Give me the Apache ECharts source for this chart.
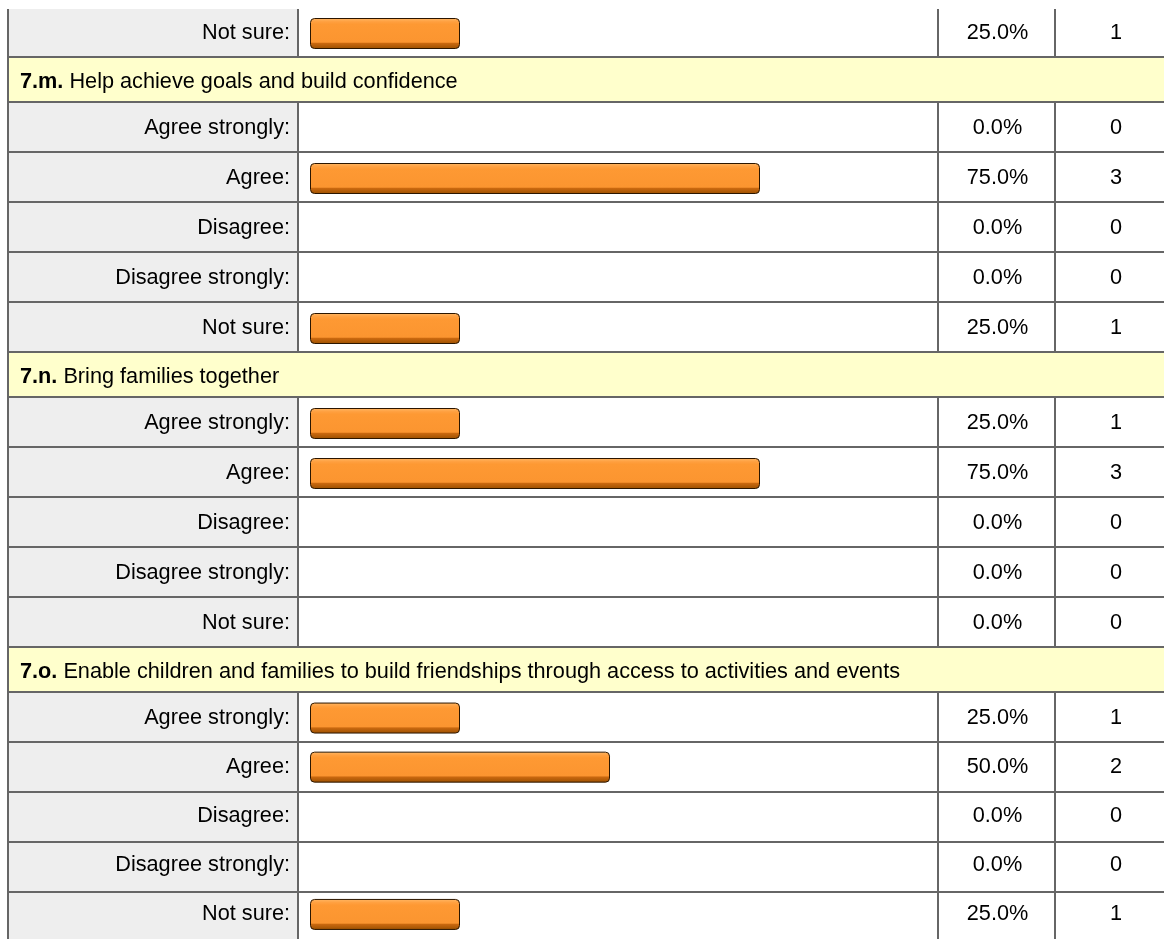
<!DOCTYPE html>
<html>
<head>
<meta charset="utf-8">
<title>Survey question 7 – responses</title>
<script src="https://cdn.jsdelivr.net/npm/echarts@6/dist/echarts.min.js"></script>
<style>
  html, body { margin: 0; padding: 0; background: #ffffff; }
  #chart { width: 1164px; height: 939px; }
</style>
</head>
<body>
<div id="chart"></div>
<script>
// ---- data -------------------------------------------------------------
const ANSWERS = ['Agree strongly:', 'Agree:', 'Disagree:', 'Disagree strongly:', 'Not sure:'];

// tail of the previous question (only its last answer row is on this page)
const PREV_ANSWERS = ['Not sure:'];
const PREV_PCT = [25.0];
const PREV_COUNT = [1];

const CODE_7M = '7.m.';
const TEXT_7M = 'Help achieve goals and build confidence';
const PCT_7M = [0.0, 75.0, 0.0, 0.0, 25.0];
const COUNT_7M = [0, 3, 0, 0, 1];

const CODE_7N = '7.n.';
const TEXT_7N = 'Bring families together';
const PCT_7N = [25.0, 75.0, 0.0, 0.0, 0.0];
const COUNT_7N = [1, 3, 0, 0, 0];

const CODE_7O = '7.o.';
const TEXT_7O = 'Enable children and families to build friendships through access to activities and events';
const PCT_7O = [25.0, 50.0, 0.0, 0.0, 25.0];
const COUNT_7O = [1, 2, 0, 0, 1];

// ---- layout -----------------------------------------------------------
const FONT = "'Liberation Sans', Arial, Helvetica, sans-serif";
const FS = 21.7;
const LINE = '#666666';
const LW = 2;
const TABLE_L = 7;        // outer left border
const SPLIT_LABEL = 297;  // label | bar
const SPLIT_PCT = 937;    // bar | percent
const SPLIT_CNT = 1054;   // percent | count
const TABLE_R = 1180;     // runs past the right edge
const CLIP_TOP = 9;
const HEADER_H = 45;
const ROW_H = 50;
const BAR_LEFT = 310;
const BAR_FULL = 600;     // width of a 100% bar

const blocks = [
  { code: null, text: null, answers: PREV_ANSWERS, pct: PREV_PCT, cnt: PREV_COUNT },
  { code: CODE_7M, text: TEXT_7M, answers: ANSWERS, pct: PCT_7M, cnt: COUNT_7M },
  { code: CODE_7N, text: TEXT_7N, answers: ANSWERS, pct: PCT_7N, cnt: COUNT_7N },
  { code: CODE_7O, text: TEXT_7O, answers: ANSWERS, pct: PCT_7O, cnt: COUNT_7O }
];

const graphics = [];
const grids = [], xAxes = [], yAxes = [], series = [];

function hLine(y) {
  if (y < CLIP_TOP) return;
  graphics.push({ type: 'rect', z: 1, silent: true,
    shape: { x: TABLE_L, y: y, width: TABLE_R - TABLE_L, height: LW },
    style: { fill: LINE } });
}
function vLine(x, y0, y1) {
  const a = Math.max(y0, CLIP_TOP);
  graphics.push({ type: 'rect', z: 1, silent: true,
    shape: { x: x, y: a, width: LW, height: y1 - a },
    style: { fill: LINE } });
}
function cell(x0, x1, y0, y1, fill) {
  const a = Math.max(y0, CLIP_TOP);
  graphics.push({ type: 'rect', z: 0, silent: true,
    shape: { x: x0, y: a, width: x1 - x0, height: y1 - a },
    style: { fill: fill } });
}

const barFill = {
  type: 'linear', x: 0, y: 0, x2: 0, y2: 1,
  colorStops: [
    { offset: 0.00, color: '#ffb866' },
    { offset: 0.12, color: '#ffa040' },
    { offset: 0.20, color: '#fe9933' },
    { offset: 0.78, color: '#fb9530' },
    { offset: 0.82, color: '#c9680f' },
    { offset: 1.00, color: '#9a5000' }
  ]
};

let y = 6; // top of the first row line
blocks.forEach(function (blk, b) {
  if (blk.code) {
    hLine(y);
    cell(TABLE_L + LW, TABLE_R, y + LW, y + HEADER_H, '#ffffcc');
    graphics.push({
      type: 'text', z: 20, silent: true, x: 20, y: y + 26,
      style: {
        text: '{b|' + blk.code + '} ' + blk.text,
        fontSize: FS, fontFamily: FONT, fill: '#000000', verticalAlign: 'middle',
        rich: { b: { fontSize: FS, fontFamily: FONT, fontWeight: 'bold', fill: '#000000' } }
      }
    });
    y += HEADER_H;
  }
  const rowsTop = y;
  const n = blk.answers.length;
  for (let i = 0; i < n; i++) {
    hLine(y);
    cell(TABLE_L + LW, SPLIT_LABEL, y + LW, y + ROW_H, '#eeeeee');
    y += ROW_H;
  }
  [SPLIT_LABEL, SPLIT_PCT, SPLIT_CNT].forEach(function (x) { vLine(x, rowsTop, y); });

  grids.push({ left: BAR_LEFT, width: BAR_FULL, top: rowsTop + 2.5, height: n * ROW_H, containLabel: false });
  xAxes.push({ gridIndex: b, type: 'value', min: 0, max: 100, show: false });
  yAxes.push({
    gridIndex: b, type: 'category', data: blk.answers, inverse: true, z: 10,
    axisLine: { show: false }, axisTick: { show: false }, splitLine: { show: false },
    axisLabel: { interval: 0, margin: 20, fontSize: FS, fontFamily: FONT, color: '#000000' }
  });
  yAxes.push({
    gridIndex: b, type: 'category', position: 'right', data: blk.answers, inverse: true, z: 10,
    axisLine: { show: false }, axisTick: { show: false }, splitLine: { show: false },
    axisLabel: {
      interval: 0, margin: 29,
      formatter: function (v, i) {
        return '{p|' + blk.pct[i].toFixed(1) + '%}{c|' + blk.cnt[i] + '}';
      },
      rich: {
        p: { width: 117, align: 'center', fontSize: FS, fontFamily: FONT, color: '#000000' },
        c: { width: 120, align: 'center', fontSize: FS, fontFamily: FONT, color: '#000000' }
      }
    }
  });
  series.push({
    type: 'bar', xAxisIndex: b, yAxisIndex: 2 * b, z: 10,
    barWidth: 31, silent: true, animation: false,
    data: blk.pct.map(function (v) { return v > 0 ? v : '-'; }),
    itemStyle: { color: barFill, borderColor: '#2b1600', borderWidth: 1, borderRadius: 4 }
  });
});
hLine(y);
vLine(TABLE_L, CLIP_TOP, 939);

const chart = echarts.init(document.getElementById('chart'), null, { renderer: 'canvas' });
chart.setOption({
  animation: false,
  backgroundColor: '#ffffff',
  textStyle: { fontFamily: FONT },
  grid: grids,
  xAxis: xAxes,
  yAxis: yAxes,
  series: series,
  graphic: graphics
});
</script>
</body>
</html>
